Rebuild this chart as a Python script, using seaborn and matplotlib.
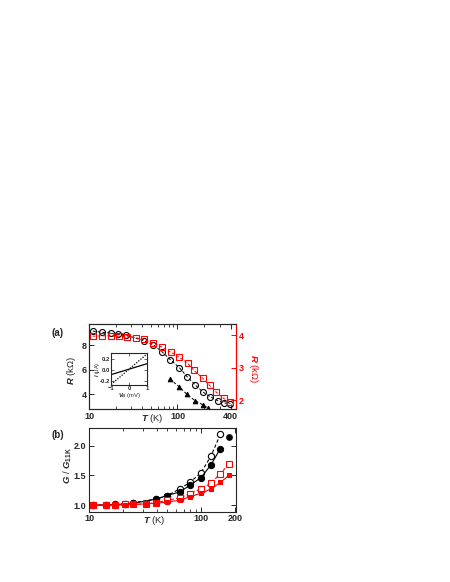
import matplotlib
matplotlib.use("Agg")
import matplotlib.pyplot as plt
import seaborn as sns
from matplotlib.ticker import FixedLocator, NullFormatter, LogLocator

# ---- panel (a): R vs T ----
T_circ = [11, 14, 17.5, 21.5, 26, 42, 53, 67, 83, 105, 128, 157, 194, 235, 290, 340, 397]
R_circ = [9.14, 9.04, 8.98, 8.87, 8.82, 8.35, 8.03, 7.45, 6.82, 6.17, 5.45, 4.8, 4.19, 3.8, 3.47, 3.3, 3.25]

T_tri = [82, 105, 128, 157, 193, 220]
R_tri = [5.25, 4.6, 4.0, 3.5, 3.15, 2.9]

T_sq = [11, 14, 17.5, 21.7, 26.6, 33.7, 41.5, 53, 67, 84, 105, 130, 152, 192, 231, 276, 333, 395]
R_sq = [3.97, 3.98, 3.98, 3.97, 3.95, 3.92, 3.87, 3.76, 3.63, 3.48, 3.32, 3.14, 2.93, 2.68, 2.45, 2.24, 2.05, 1.95]

# inset I-V
V_in = [-1, 1]
I_solid = [-0.09, 0.11]
I_dot = [-0.27, 0.29]

# ---- panel (b): G/G11K vs T ----
T_b = [10.9, 14.2, 17.1, 21.0, 24.9, 32.4, 39.7, 49.6, 64.5, 79, 99.6, 123, 148.5, 177.5]
G_blk_fill = [1.0, 1.0, 1.005, 1.02, 1.03, None, 1.10, 1.16, 1.22, 1.33, 1.46, 1.68, 1.95, 2.14]
G_blk_open = [1.0, 1.0, 1.01, 1.02, 1.04, None, 1.10, 1.16, 1.27, 1.38, 1.54, 1.83, 2.19, None]
G_red_fill = [1.0, 1.0, 1.0, 1.005, 1.01, 1.02, 1.03, 1.05, 1.08, 1.135, 1.20, 1.27, 1.38, 1.50]
G_red_open = [1.0, 1.0, 1.0, 1.01, 1.01, 1.02, 1.04, 1.08, 1.12, 1.19, 1.27, 1.37, 1.53, 1.69]

sns.set_theme(style="ticks")
plt.rcParams['font.family'] = ['Liberation Sans', 'DejaVu Sans']
plt.rcParams['font.weight'] = 'bold'
plt.rcParams['mathtext.fontset'] = 'custom'
plt.rcParams['mathtext.rm'] = 'Liberation Sans:bold'
plt.rcParams['mathtext.it'] = 'Liberation Sans:italic:bold'
plt.rcParams['mathtext.bf'] = 'Liberation Sans:bold'
plt.rcParams['axes.linewidth'] = 0.8

RED = '#ff0000'
FS = 6.5


def pick(xs, ys):
    pts = [(x, y) for x, y in zip(xs, ys) if y is not None]
    return [p[0] for p in pts], [p[1] for p in pts]


def style_log_x(ax, majors, lo, hi):
    ax.set_xscale('log')
    ax.set_xlim(lo, hi)
    ax.xaxis.set_major_locator(FixedLocator(majors))
    ax.set_xticklabels([str(m) for m in majors])
    ax.xaxis.set_minor_locator(LogLocator(base=10, subs=range(2, 10)))
    ax.xaxis.set_minor_formatter(NullFormatter())


fig = plt.figure(figsize=(4.5, 5.82), dpi=100)

# ---------- (a) ----------
ax = fig.add_axes([0.198, 0.297, 0.327, 0.146])
sns.lineplot(x=T_circ, y=R_circ, ax=ax, color='black', lw=0.7, ls=(0, (3, 2)),
             marker='o', ms=4.3, mfc='none', mec='black', mew=0.8, sort=False)
sns.lineplot(x=T_tri, y=R_tri, ax=ax, color='black', lw=0.7, ls=(0, (3, 2)),
             marker='^', ms=3.3, mfc='black', mec='black', sort=False)
style_log_x(ax, [10, 100, 400], 10, 462)
ax.set_ylim(2.8, 9.7)
ax.set_yticks([4, 6, 8])
ax.tick_params(which='both', direction='in', top=True, right=False, labelsize=FS, pad=2)
ax.tick_params(which='major', length=3.5, width=0.7)
ax.tick_params(which='minor', length=2, width=0.6)
ax.set_ylabel(r'$R$ (kΩ)', fontsize=FS + 0.3)
ax.yaxis.set_label_coords(-0.118, 0.46)
ax.yaxis.label.set_va('center')
ax.set_xlabel(r'$T$ (K)', fontsize=FS + 0.3)
ax.xaxis.set_label_coords(0.43, -0.115)
ax.xaxis.label.set_va('center')

ax2 = ax.twinx()
sns.lineplot(x=T_sq, y=R_sq, ax=ax2, color=RED, lw=0.7, ls=(0, (3, 2)),
             marker='s', ms=3.8, mfc='none', mec=RED, mew=0.8, sort=False)
ax2.set_ylim(1.72, 4.34)
ax2.set_yticks([2, 3, 4])
ax2.tick_params(axis='y', direction='in', colors=RED, labelsize=FS, pad=2, length=3.5, width=0.7)
ax2.spines['right'].set_color(RED)
ax2.set_ylabel(r'$R$ (kΩ)', fontsize=FS + 0.3, color=RED, rotation=270)
ax2.yaxis.set_label_coords(1.118, 0.48)
ax2.yaxis.label.set_va('center')

# inset
axi = fig.add_axes([0.247, 0.3385, 0.080, 0.0545])
sns.lineplot(x=V_in, y=I_solid, ax=axi, color='black', lw=0.9, sort=False)
sns.lineplot(x=V_in, y=I_dot, ax=axi, color='black', lw=0.9, ls=(0, (1, 1.2)), sort=False)
axi.set_xlim(-1, 1)
axi.set_ylim(-0.28, 0.30)
axi.set_xticks([-1, 0, 1])
axi.set_yticks([-0.2, 0.0, 0.2])
axi.set_yticklabels(['-0.2', '0.0', '0.2'])
axi.tick_params(direction='in', top=True, right=True, labelsize=4.2, pad=1, length=2, width=0.5)
axi.set_ylabel(r'$I$ (μA)', fontsize=4.0)
axi.yaxis.set_label_coords(-0.37, 0.5)
axi.yaxis.label.set_va('center')
axi.set_xlabel(r'$V_B$ (mV)', fontsize=4.2)
axi.xaxis.set_label_coords(0.52, -0.33)
axi.xaxis.label.set_va('center')

fig.text(0.129, 0.428, '(a)', fontsize=7, fontweight='bold', ha='center', va='center')

# ---------- (b) ----------
bx = fig.add_axes([0.198, 0.121, 0.327, 0.144])
x, y = pick(T_b, G_blk_open)
sns.lineplot(x=x, y=y, ax=bx, color='black', lw=0.8, ls=(0, (3, 2)),
             marker='o', ms=4.5, mfc='white', mec='black', mew=0.8, sort=False)
x, y = pick(T_b, G_blk_fill)
sns.lineplot(x=x[:-1], y=y[:-1], ax=bx, color='black', lw=0.8,
             marker='o', ms=4.5, mfc='black', mec='black', sort=False)
sns.scatterplot(x=x[-1:], y=y[-1:], ax=bx, color='black', s=20, marker='o', edgecolor='black')
sns.lineplot(x=T_b, y=G_red_open, ax=bx, color=RED, lw=0.8, ls=(0, (3, 2)),
             marker='s', ms=3.7, mfc='white', mec=RED, mew=0.8, sort=False)
sns.lineplot(x=T_b, y=G_red_fill, ax=bx, color=RED, lw=0.8,
             marker='s', ms=3.0, mfc=RED, mec=RED, sort=False)
style_log_x(bx, [10, 100, 200], 10, 206)
bx.set_ylim(0.89, 2.30)
bx.set_yticks([1.0, 1.5, 2.0])
bx.set_yticklabels(['1.0', '1.5', '2.0'])
bx.tick_params(which='both', direction='in', top=True, right=True, labelsize=FS, pad=2)
bx.tick_params(which='major', length=3.5, width=0.7)
bx.tick_params(which='minor', length=2, width=0.6)
bx.set_ylabel(r'$G$ / $G$$_{\rm 11K}$', fontsize=FS + 0.3)
bx.yaxis.set_label_coords(-0.143, 0.55)
bx.yaxis.label.set_va('center')
bx.set_xlabel(r'$T$ (K)', fontsize=FS + 0.3)
bx.xaxis.set_label_coords(0.44, -0.11)
bx.xaxis.label.set_va('center')

fig.text(0.129, 0.2526, '(b)', fontsize=7, fontweight='bold', ha='center', va='center')

fig.savefig('out.png', dpi=100)
